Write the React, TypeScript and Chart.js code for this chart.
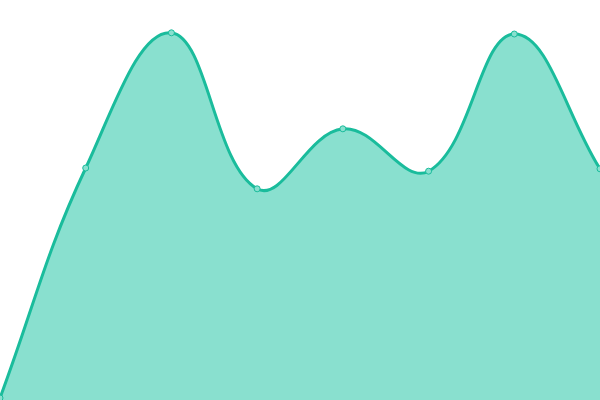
import React, { useRef, useEffect } from "react";
import Chart from "chart.js/auto";

const labels = ["1", "2", "3", "4", "5", "6", "7", "8"];
const values = [0.5, 58, 91.8, 52.8, 67.8, 57.2, 91.5, 57.8];

const App: React.FC = () => {
  const chartRef = useRef<HTMLCanvasElement | null>(null);

  useEffect(() => {
    document.body.style.margin = "0";
    if (!chartRef.current) return;
    const ctx = chartRef.current.getContext("2d");
    if (!ctx) return;

    const chart = new Chart(ctx, {
      type: "line",
      data: {
        labels,
        datasets: [
          {
            data: values,
            fill: true,
            backgroundColor: "rgba(137, 224, 207, 1)",
            borderColor: "#1abc9c",
            borderWidth: 3,
            tension: 0.4,
            pointRadius: 3,
            pointBackgroundColor: "#89e0cf",
            pointBorderColor: "#1abc9c",
            pointBorderWidth: 1,
          },
        ],
      },
      options: {
        responsive: false,
        animation: false,
        layout: { padding: 0, autoPadding: false },
        scales: {
          x: { display: false, offset: false },
          y: { display: false, min: 0, max: 100 },
        },
        plugins: {
          legend: { display: false },
          tooltip: { enabled: false },
        },
      },
    });

    return () => {
      chart.destroy();
    };
  }, []);

  return (
    <div style={{ position: "fixed", top: 0, left: 0, width: 600, height: 400 }}>
      <canvas ref={chartRef} width={600} height={400} />
    </div>
  );
};

export default App;
